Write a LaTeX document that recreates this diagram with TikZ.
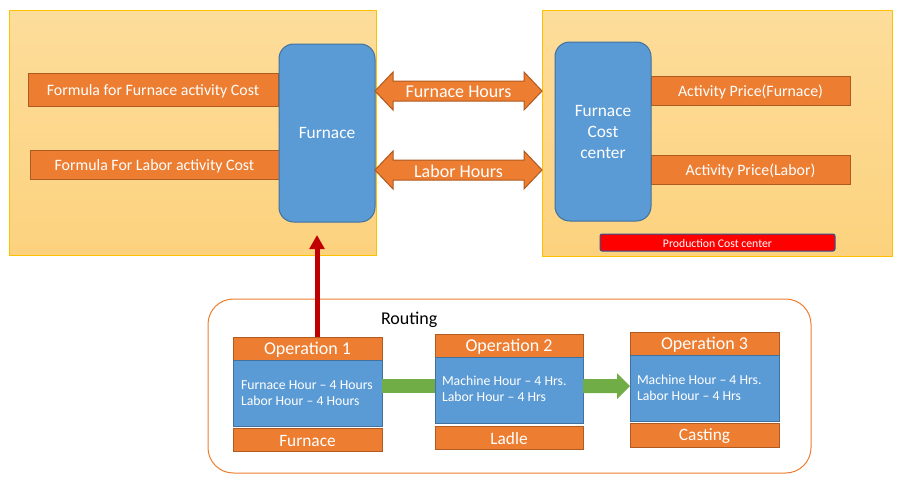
\documentclass[tikz,border=0pt]{standalone}
\usepackage{fontspec}
\setmainfont{Carlito}
\usetikzlibrary{calc,fit,arrows.meta}
\definecolor{orf}{HTML}{ED7D31}
\definecolor{ord}{HTML}{AE5A21}
\definecolor{blf}{HTML}{5B9BD5}
\definecolor{bld}{HTML}{41719C}
\definecolor{ylt}{RGB}{253,221,155}
\definecolor{ylb}{RGB}{252,210,126}
\definecolor{yld}{HTML}{FFC000}
\definecolor{grn}{HTML}{70AD47}
\definecolor{drd}{HTML}{C00000}
\definecolor{pbd}{HTML}{2F5597}
\begin{document}
\begin{tikzpicture}[x=0.75pt,y=-0.75pt,
  every node/.style={inner sep=0pt, outer sep=0pt},
  area/.style={draw=yld, line width=0.75pt, top color=ylt, bottom color=ylb},
  obox/.style={draw=ord, fill=orf, line width=0.75pt},
  otxt/.style={text=white, yshift=-1.2pt, font=\fontsize{11.9}{14}\selectfont},
  bbox/.style={draw=bld, fill=blf, line width=0.75pt, rounded corners=11pt},
  btxt/.style={text=white, align=center, font=\fontsize{13}{15.75}\selectfont},
  prod/.style={draw=pbd, fill=red, line width=0.75pt, rounded corners=1.5pt},
  ptxt/.style={text=white, yshift=-0.5pt, font=\fontsize{8.8}{10}\selectfont},
  rout/.style={draw=orf, line width=0.75pt, rounded corners=19pt},
  ohead/.style={draw=ord, fill=orf, line width=0.75pt},
  htxt/.style={text=white, yshift=-1.2pt, font=\fontsize{13.5}{16}\selectfont},
  ftxt/.style={text=white, yshift=-1pt, font=\fontsize{13}{16}\selectfont},
  obody/.style={draw=bld, fill=blf, line width=0.75pt},
  bodytxt/.style={text=white, align=left, anchor=west, font=\fontsize{10.3}{12}\selectfont},
  blk/.style={draw=ord, fill=orf, line width=0.75pt},
  blktxt/.style={text=white, yshift=-0.8pt, font=\fontsize{13.5}{16}\selectfont},
  garrow/.style={fill=grn},
  rarrow/.style={draw=drd, line width=3.75pt, -{Triangle[length=10.5pt,width=11pt]}}
]
\useasboundingbox (0,0) rectangle (904,479);

% upper areas
\node[area, fit={(9,10)(376,255)}] (lbox) {};
\node[area, fit={(542,10)(892,256)}] (rbox) {};

% left area content
\node[obox, fit={(28,73)(278,106)}] (ff) {};
\node[otxt] (fft) at (ff.center) {Formula for Furnace activity Cost};
\node[obox, fit={(30,150)(279,179)}] (fl) {};
\node[otxt] (flt) at (fl.center) {Formula For Labor activity Cost};
\node[bbox, fit={(279,44)(375,222)}] (fur) {};
\node[btxt] (furt) at (fur.center) {Furnace};

% right area content
\node[obox, fit={(651,76)(850,105)}] (apf) {};
\node[otxt] (apft) at (apf.center) {Activity Price(Furnace)};
\node[obox, fit={(651,155)(850,184)}] (apl) {};
\node[otxt] (aplt) at (apl.center) {Activity Price(Labor)};
\node[bbox, fit={(555,42)(651,221)}] (fcc) {};
\node[btxt] (fcct) at (fcc.center) {Furnace\\Cost\\center};
\node[prod, fit={(600,234)(835,251)}] (pcc) {};
\node[ptxt] (pcct) at (pcc.center) {Production Cost center};

% double block arrows
\coordinate (fhA) at (fur.east |- 0,91);
\coordinate (fhB) at (rbox.west |- 0,91);
\coordinate (lhA) at (fur.east |- 0,170);
\coordinate (lhB) at (rbox.west |- 0,170);
\foreach \A/\B in {fhA/fhB, lhA/lhB}{
  \draw[blk] (\A) -- ($(\A)+(18,-19)$) -- ($(\A)+(18,-10)$) -- ($(\B)+(-18,-10)$)
    -- ($(\B)+(-18,-19)$) -- (\B) -- ($(\B)+(-18,19)$) -- ($(\B)+(-18,10)$)
    -- ($(\A)+(18,10)$) -- ($(\A)+(18,19)$) -- cycle;
}
\node[blktxt] (fhl) at ($(fhA)!0.5!(fhB)$) {Furnace Hours};
\node[blktxt] (lhl) at ($(lhA)!0.5!(lhB)$) {Labor Hours};

% routing
\node[rout, fit={(208,299)(811,473)}] (routing) {};
\node[anchor=west, font=\fontsize{13.5}{16}\selectfont] (rlabel) at (381,319.5) {Routing};

% operation 1
\node[ohead, fit={(233,337)(382,360)}] (o1h) {};
\node[htxt] (o1ht) at (o1h.center) {Operation 1};
\node[obody, fit={(233,360)(382,426)}] (o1b) {};
\node[bodytxt] (o1t) at ($(o1b.west)+(8,0)$) {Furnace Hour – 4 Hours\\Labor Hour – 4 Hours};
\node[ohead, fit={(233,428)(382,451)}] (o1f) {};
\node[ftxt] (o1ft) at (o1f.center) {Furnace};

% operation 2
\node[ohead, fit={(435,334)(583,357)}] (o2h) {};
\node[htxt] (o2ht) at (o2h.center) {Operation 2};
\node[obody, fit={(435,357)(583,423)}] (o2b) {};
\node[bodytxt] (o2t) at ($(o2b.west)+(7,-1)$) {Machine Hour – 4 Hrs.\\Labor Hour – 4 Hrs};
\node[ohead, fit={(435,426)(583,449)}] (o2f) {};
\node[ftxt] (o2ft) at (o2f.center) {Ladle};

% operation 3
\node[ohead, fit={(630,332)(779,355)}] (o3h) {};
\node[htxt] (o3ht) at (o3h.center) {Operation 3};
\node[obody, fit={(630,355)(779,421)}] (o3b) {};
\node[bodytxt] (o3t) at ($(o3b.west)+(7,0)$) {Machine Hour – 4 Hrs.\\Labor Hour – 4 Hrs};
\node[ohead, fit={(630,423)(779,447)}] (o3f) {};
\node[ftxt] (o3ft) at (o3f.center) {Casting};

% green arrows
\coordinate (g1a) at (o1b.east |- 0,386);
\coordinate (g1b) at (o2b.west |- 0,386);
\fill[garrow] ($(g1a)+(0,-7)$) rectangle ($(g1b)+(0,7)$);
\coordinate (g2a) at (o2b.east |- 0,386);
\coordinate (g2b) at (o3b.west |- 0,386);
\fill[garrow] ($(g2a)+(0,-7)$) -- ($(g2b)+(-13,-7)$) -- ($(g2b)+(-13,-13)$) -- (g2b)
  -- ($(g2b)+(-13,13)$) -- ($(g2b)+(-13,7)$) -- ($(g2a)+(0,7)$) -- cycle;

% red arrow
\coordinate (rtip) at (317,235);
\draw[rarrow] (o1h.north -| rtip) -- (rtip);
\end{tikzpicture}
\end{document}
